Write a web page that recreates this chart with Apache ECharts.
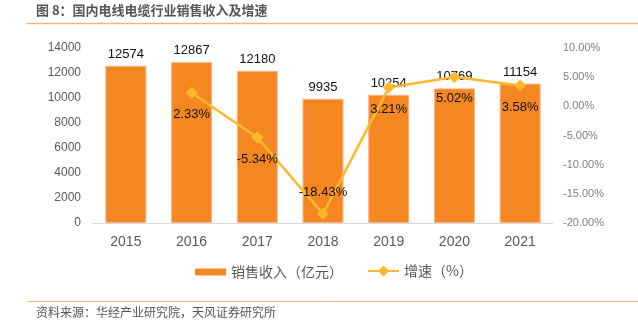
<!DOCTYPE html>
<html>
<head>
<meta charset="utf-8">
<script src="https://cdn.jsdelivr.net/npm/echarts@6/dist/echarts.min.js"></script>
<style>
html,body{margin:0;padding:0;background:#fff;}
#chart{width:638px;height:326px;}
</style>
</head>
<body>
<div id="chart"></div>
<script>
// 国内电线电缆行业销售收入（亿元）及同比增速（%）
var years = ['2015', '2016', '2017', '2018', '2019', '2020', '2021'];
var revenue = [12574, 12867, 12180, 9935, 10254, 10769, 11154];
var growth = [null, 2.33, -5.34, -18.43, 3.21, 5.02, 3.58];
// 增速标签位置：2018 年标在点上方，其余在下方
var growthLabelPos = ['bottom', 'bottom', 'bottom', 'top', 'bottom', 'bottom', 'bottom'];

var titleText = '图 8：国内电线电缆行业销售收入及增速';
var sourceText = '资料来源：华经产业研究院，天风证券研究所';
var barName = '销售收入（亿元）';
var lineName = '增速（%）';

var FONT = 'Arial, "Liberation Sans", "Noto Sans CJK SC", sans-serif';
var CJK = '"Noto Sans CJK SC", sans-serif';

var chart = echarts.init(document.getElementById('chart'), null, {renderer: 'canvas'});

var growthData = growth.map(function (v, i) {
  return {value: v, label: {position: growthLabelPos[i]}};
});

var legendText = {fontFamily: CJK, fontSize: 14, color: '#595959'};

chart.setOption({
  animation: false,
  backgroundColor: '#fff',
  textStyle: {fontFamily: FONT},
  graphic: [
    {type: 'text', left: 36, top: 4, style: {text: titleText, font: 'bold 13px ' + CJK, fill: '#555555'}},
    {type: 'line', shape: {x1: 27, y1: 23.5, x2: 638, y2: 23.5}, style: {stroke: '#F6B27C', lineWidth: 1.5}},
    {type: 'line', shape: {x1: 27, y1: 301.5, x2: 638, y2: 301.5}, style: {stroke: '#F6B27C', lineWidth: 1}},
    {type: 'text', left: 36, top: 306, style: {text: sourceText, font: '12px ' + CJK, fill: '#555555'}}
  ],
  grid: {left: 93, right: 85, top: 48, bottom: 103},
  legend: [
    {
      top: 260, left: 190,
      itemWidth: 31, itemHeight: 7, itemGap: 0,
      textStyle: legendText,
      itemStyle: {borderWidth: 0},
      data: [{name: barName, icon: 'rect'}]
    },
    {
      top: 259, left: 362,
      itemWidth: 31, itemHeight: 14, itemGap: 0,
      textStyle: legendText,
      data: [{name: lineName}]
    }
  ],
  xAxis: {
    type: 'category',
    data: years,
    axisLine: {lineStyle: {color: '#D9D9D9'}},
    axisTick: {show: false},
    axisLabel: {fontSize: 14, color: '#595959', margin: 12}
  },
  yAxis: [
    {
      type: 'value',
      min: 0, max: 14000, interval: 2000,
      splitLine: {show: false},
      axisLine: {show: false},
      axisTick: {show: false},
      axisLabel: {
        fontSize: 12, color: '#595959', margin: 12,
        formatter: function (v) { return String(v); }
      }
    },
    {
      type: 'value',
      min: -20, max: 10, interval: 5,
      splitLine: {show: false},
      axisLine: {show: false},
      axisTick: {show: false},
      axisLabel: {
        fontSize: 11, color: '#7F7F7F', margin: 10,
        formatter: function (v) { return v.toFixed(2) + '%'; }
      }
    }
  ],
  series: [
    {
      name: barName,
      type: 'bar',
      data: revenue,
      barWidth: 41,
      itemStyle: {color: '#F58722', borderColor: '#F9B684', borderWidth: 1},
      label: {show: true, position: 'top', distance: 5, fontSize: 13, color: '#111111'}
    },
    {
      name: lineName,
      type: 'line',
      yAxisIndex: 1,
      data: growthData,
      connectNulls: false,
      symbol: 'diamond',
      symbolSize: 12,
      lineStyle: {color: '#FDB92B', width: 2.5},
      itemStyle: {color: '#FDB92B'},
      label: {
        show: true, fontSize: 13, color: '#111111', distance: 9,
        formatter: function (p) { return p.value.toFixed(2) + '%'; }
      }
    }
  ]
});
</script>
</body>
</html>
